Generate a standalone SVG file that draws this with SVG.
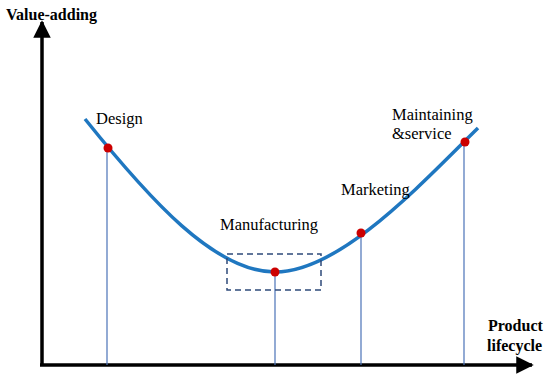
<svg xmlns="http://www.w3.org/2000/svg" width="550" height="380" viewBox="0 0 550 380">
<style>
text{font-family:'Liberation Serif','Times New Roman','DejaVu Serif',serif;fill:#000}
.lbl{font-size:16.5px}
.ax{font-size:16px;font-weight:bold}
.drop{stroke:#4a72b8;stroke-width:1.2;fill:none}
.dot{fill:#cc0000}
</style>
<defs>
<marker id="arr" viewBox="0 0 10 10" refX="9" refY="5" markerWidth="5" markerHeight="5" orient="auto" markerUnits="strokeWidth">
<path d="M0,0 L10,5 L0,10 z" fill="#000"/>
</marker>
</defs>
<g id="axes">
<line x1="42" y1="366" x2="42" y2="22" stroke="#000" stroke-width="3.5" marker-end="url(#arr)"/>
<line x1="40" y1="365" x2="532" y2="365" stroke="#000" stroke-width="3.5" marker-end="url(#arr)"/>
<text class="ax" x="6" y="20">Value-adding</text>
<text class="ax" x="488" y="331">Product</text>
<text class="ax" x="487" y="351">lifecycle</text>
</g>
<g id="connectors">
<path d="M85,119 C150,200 215,272 275,272 C340,272 420,185 478,128" stroke="#1f77c0" stroke-width="3.5" fill="none"/>
<line class="drop" x1="107" y1="148" x2="107" y2="365"/>
<line class="drop" x1="275" y1="272" x2="275" y2="365"/>
<line class="drop" x1="361" y1="233" x2="361" y2="365"/>
<line class="drop" x1="464" y1="143" x2="464" y2="365"/>
</g>
<g id="design"><circle class="dot" cx="108" cy="148" r="4.5"/><text class="lbl" x="96" y="124">Design</text></g>
<g id="manufacturing"><rect x="227" y="254" width="94" height="36" fill="none" stroke="#2e4a7a" stroke-width="1.5" stroke-dasharray="6,4"/><circle class="dot" cx="275" cy="272" r="4.5"/><text class="lbl" x="220" y="230">Manufacturing</text></g>
<g id="marketing"><circle class="dot" cx="361" cy="233" r="4.5"/><text class="lbl" x="341" y="195">Marketing</text></g>
<g id="maintaining"><circle class="dot" cx="465" cy="142" r="4.5"/><text class="lbl" x="392" y="120">Maintaining</text><text class="lbl" x="392" y="139">&amp;service</text></g>
</svg>
